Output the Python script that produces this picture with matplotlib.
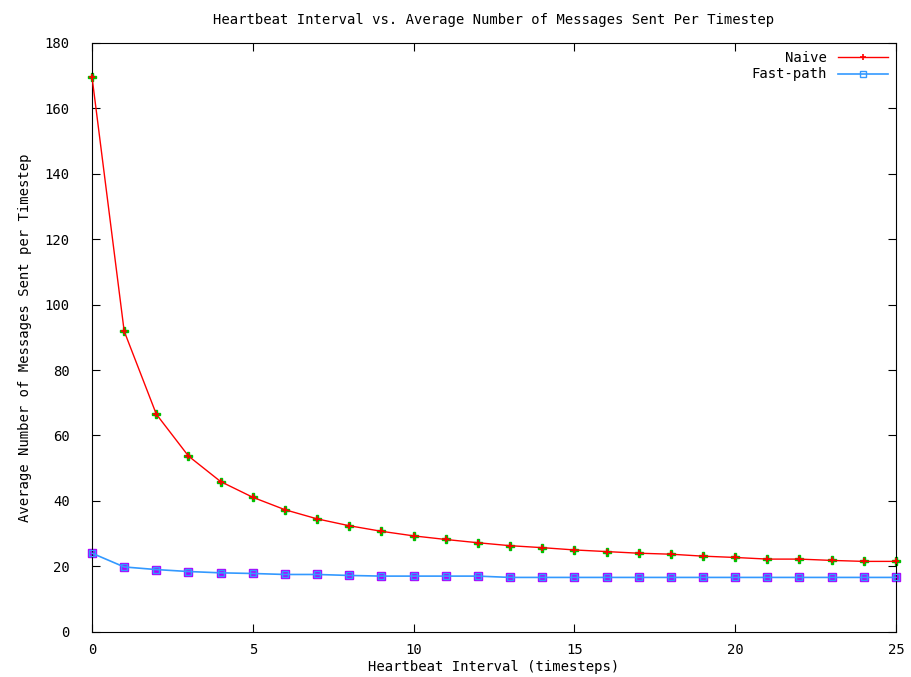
import numpy as np
import matplotlib.pyplot as plt

interval = list(range(0, 26))
naive = [169.6, 91.9, 66.5, 53.7, 45.9, 41.1, 37.3, 34.5, 32.4, 30.7,
         29.3, 28.2, 27.2, 26.3, 25.7, 25.0, 24.5, 24.0, 23.7, 23.1,
         22.7, 22.2, 22.2, 21.8, 21.5, 21.5]
fastpath = [24.0, 19.8, 19.0, 18.4, 18.0, 17.8, 17.5, 17.5, 17.2, 17.0,
            17.0, 17.0, 17.0, 16.6, 16.6, 16.6, 16.6, 16.6, 16.6, 16.6,
            16.6, 16.6, 16.6, 16.6, 16.6, 16.6]

plt.rcParams['font.family'] = 'DejaVu Sans Mono'
plt.rcParams['font.size'] = 10

fig = plt.figure(figsize=(9.11, 6.77), dpi=100)
ax = fig.add_axes([0.101, 0.0669, 0.8825, 0.8696])

#point markers drawn under the lines (green / purple like gnuplot)
ax.plot(interval, naive, linestyle='none', marker='P', markersize=6,
        color='#00c000', zorder=2, clip_on=False)
ax.plot(interval, fastpath, linestyle='none', marker='s', markersize=6,
        color='#b000ff', zorder=2, clip_on=False)

ax.plot(interval, naive, color='red', linewidth=1, marker='+', markersize=4,
        markeredgewidth=1.2, label='Naive', zorder=3, clip_on=False)
ax.plot(interval, fastpath, color='#3399ff', linewidth=1.2, marker='s',
        markersize=4, markerfacecolor='none', markeredgewidth=1,
        label='Fast-path', zorder=3, clip_on=False)

ax.set_xlim(0, 25)
ax.set_ylim(0, 180)
ax.set_xticks([0, 5, 10, 15, 20, 25])
ax.set_yticks(np.arange(0, 181, 20))
ax.tick_params(direction='in', length=6, top=True, right=True, labelsize=10)
ax.tick_params(axis='y', pad=16)
ax.tick_params(axis='x', pad=8)

ax.set_title('Heartbeat Interval vs. Average Number of Messages Sent Per Timestep',
             fontsize=10, pad=14)
ax.set_xlabel('Heartbeat Interval (timesteps)', fontsize=10, labelpad=2)
ax.set_ylabel('Average Number of Messages Sent per Timestep', fontsize=10,
              labelpad=9)

ax.legend(loc='upper right', frameon=False, markerfirst=False,
          handlelength=3.6, fontsize=10, borderaxespad=0.2, labelspacing=0.15)

fig.savefig('out.png', dpi=100)
